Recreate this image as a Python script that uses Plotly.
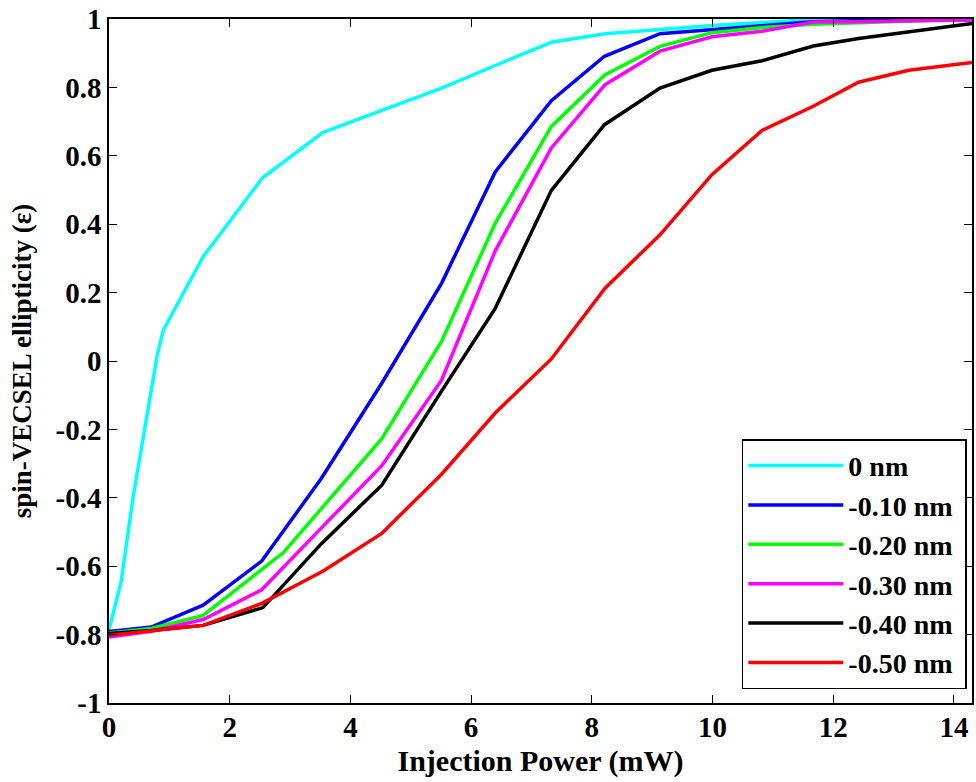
import plotly.graph_objects as go

# ---- data ----
names = ["0 nm", "-0.10 nm", "-0.20 nm", "-0.30 nm", "-0.40 nm", "-0.50 nm"]
colors = ["#00FFFF", "#0000FF", "#00FF00", "#FF00FF", "#000000", "#FF0000"]

x_0nm = [0, 0.2, 0.4, 0.8, 0.9, 1.56, 2.54, 3.54, 4.52, 5.51, 6.40, 7.33, 8.22, 9.13, 10.0, 10.82, 11.67, 12.42, 13.25, 14.3]
y_0nm = [-0.786, -0.646, -0.397, 0.018, 0.09, 0.305, 0.535, 0.668, 0.733, 0.798, 0.864, 0.932, 0.957, 0.970, 0.981, 0.990, 0.998, 1.0, 1.0, 1.0]

x_010 = [0, 0.7, 1.56, 2.53, 3.52, 4.52, 5.51, 6.40, 7.33, 8.21, 9.13, 9.99, 10.82, 11.67, 12.42, 13.25, 14.3]
y_010 = [-0.791, -0.778, -0.714, -0.585, -0.343, -0.065, 0.227, 0.553, 0.761, 0.891, 0.957, 0.969, 0.980, 0.992, 0.995, 0.997, 0.998]

x_020 = [0, 0.7, 1.56, 2.89, 4.52, 5.51, 6.40, 7.33, 8.22, 9.13, 9.99, 10.82, 11.67, 12.42, 13.25, 14.3]
y_020 = [-0.795, -0.782, -0.744, -0.560, -0.227, 0.057, 0.403, 0.686, 0.837, 0.920, 0.960, 0.975, 0.985, 0.990, 0.995, 1.0]

x_030 = [0, 0.7, 1.56, 2.53, 3.52, 4.52, 5.51, 6.40, 7.33, 8.22, 9.13, 9.99, 10.82, 11.67, 12.42, 13.25, 14.3]
y_030 = [-0.807, -0.790, -0.756, -0.669, -0.488, -0.306, -0.056, 0.322, 0.623, 0.808, 0.906, 0.948, 0.964, 0.991, 0.992, 0.995, 0.998]

x_040 = [0, 0.7, 1.56, 2.55, 3.52, 4.52, 5.51, 6.40, 7.33, 8.21, 9.13, 9.99, 10.82, 11.67, 12.42, 13.25, 14.3]
y_040 = [-0.797, -0.788, -0.773, -0.721, -0.534, -0.363, -0.088, 0.154, 0.499, 0.691, 0.798, 0.850, 0.878, 0.921, 0.943, 0.962, 0.987]

x_050 = [0, 0.7, 1.56, 2.54, 3.55, 4.52, 5.51, 6.40, 7.33, 8.22, 9.13, 9.99, 10.82, 11.67, 12.42, 13.25, 14.3]
y_050 = [-0.802, -0.790, -0.773, -0.708, -0.614, -0.504, -0.331, -0.152, 0.006, 0.213, 0.369, 0.545, 0.674, 0.745, 0.815, 0.850, 0.873]

x_tickvals = [0, 2, 4, 6, 8, 10, 12, 14]
x_ticktext = ["0", "2", "4", "6", "8", "10", "12", "14"]
y_tickvals = [-1, -0.8, -0.6, -0.4, -0.2, 0, 0.2, 0.4, 0.6, 0.8, 1]
y_ticktext = ["-1", "-0.8", "-0.6", "-0.4", "-0.2", "0", "0.2", "0.4", "0.6", "0.8", "1"]

xs = [x_0nm, x_010, x_020, x_030, x_040, x_050]
ys = [y_0nm, y_010, y_020, y_030, y_040, y_050]

FONT = "Liberation Serif"

fig = go.Figure()
for name, col, xv, yv in zip(names, colors, xs, ys):
    fig.add_trace(go.Scatter(x=xv, y=yv, mode="lines", name=name + "\u00a0",
                             line=dict(color=col, width=3.5)))

axis_common = dict(showline=True, linecolor="black", linewidth=1.5, mirror="ticks",
                   ticks="inside", ticklen=8, tickcolor="black", tickwidth=1.2,
                   showgrid=False, zeroline=False, automargin=False,
                   ticklabeloverflow="allow",
                   tickfont=dict(family=FONT, size=29, color="black", weight="bold"))

fig.update_layout(
    width=976, height=782,
    margin=dict(l=109, r=4, t=19, b=79),
    paper_bgcolor="white", plot_bgcolor="white",
    xaxis=dict(range=[0, 14.3], tickvals=x_tickvals, ticktext=x_ticktext,
               ticklabelstandoff=-3,
               title=dict(text="Injection Power (mW)", standoff=8,
                          font=dict(family=FONT, size=30, color="black", weight="bold")),
               **axis_common),
    yaxis=dict(range=[-1, 1], tickvals=y_tickvals, ticktext=y_ticktext,
               title=dict(text="spin-VECSEL ellipticity (ε)", standoff=16,
                          font=dict(family=FONT, size=27, color="black", weight="bold")),
               **axis_common),
    legend=dict(x=0.994, y=0.02, xanchor="right", yanchor="bottom",
                bgcolor="white", bordercolor="black", borderwidth=1.5,
                itemwidth=95, tracegroupgap=0,
                font=dict(family=FONT, size=28, color="black", weight="bold")),
    showlegend=True,
)

# remove the default 8px page margin so the 976x782 figure fills the window
fig.write_html("out.html", config={"displayModeBar": False},
               post_script="document.body.style.margin='0px';document.body.style.overflow='hidden';")
